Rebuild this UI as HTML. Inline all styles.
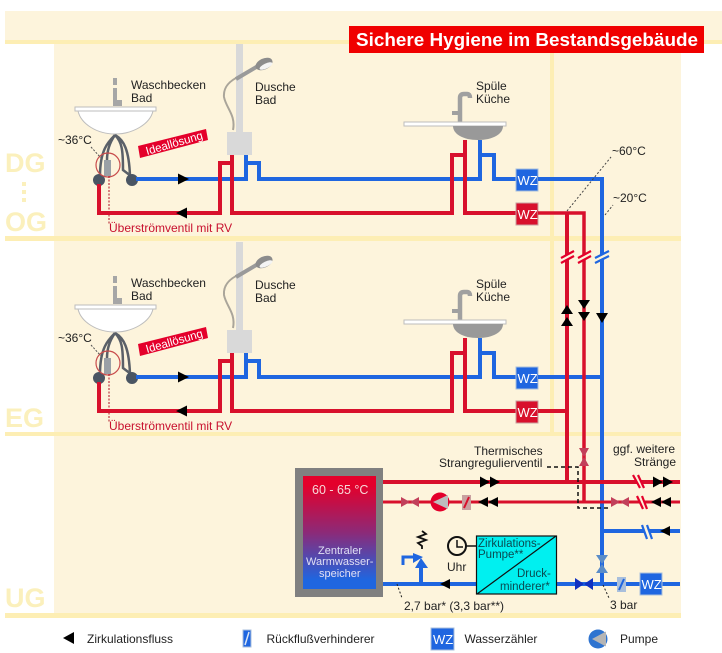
<!DOCTYPE html>
<html><head><meta charset="utf-8"><style>
html,body{margin:0;padding:0;background:#fff}
svg{display:block;filter:blur(.3px)}
text{font-family:"Liberation Sans",sans-serif;fill:#222;font-size:12px}
</style></head><body>
<svg width="722" height="653" viewBox="0 0 722 653" xmlns="http://www.w3.org/2000/svg">
<defs>
<linearGradient id="g" x1="0" y1="0" x2="0" y2="1"><stop offset="0.08" stop-color="#e4002b"/><stop offset="0.5" stop-color="#8c2a78"/><stop offset="0.92" stop-color="#1f66e0"/></linearGradient>
<g id="fx">
<rect x="236" y="44" width="7" height="90" fill="#d9d9d9"/>
<rect x="227" y="132" width="25" height="23" fill="#d9d9d9"/>
<path d="M233 130C236 115 226 108 224 97C223 86 231 80 240 76" fill="none" stroke="#aaa59a" stroke-width="2"/>
<path d="M236 79L258 66" stroke="#9a9a9a" stroke-width="4"/>
<ellipse cx="264" cy="64" rx="9" ry="5.500" transform="rotate(-25 264 64)" fill="#8c8c8c"/>
<ellipse cx="266" cy="66" rx="7" ry="2.500" transform="rotate(-25 266 66)" fill="#f4f4f4"/>
<path d="M113 78h4v7h-4zM113 88h4v12h5v6h-9z" fill="#a6a6a6"/>
<rect x="75" y="107" width="81" height="4" fill="#fff" stroke="#bdbdbd"/>
<path d="M78 111H153C150 124 133 134 115 134C97 134 81 124 78 111Z" fill="#fff" stroke="#bdbdbd"/>
<path d="M115 135C108 142 100 150 100 176M115 135C110 142 107 150 107 160M115 135C122 142 123 150 123 170L131 176M115 135C124 140 129 150 130 176" fill="none" stroke="#5a6068" stroke-width="2.500"/>
<rect x="104" y="160" width="7" height="16" fill="#9aa0a6"/>
<circle cx="99" cy="180" r="6" fill="#4a5563"/>
<circle cx="132" cy="180" r="6" fill="#4a5563"/>
<circle cx="108" cy="165" r="12" fill="none" stroke="#c84b4b" stroke-width="1.200"/>
<path d="M91 147L101 158" stroke="#555" stroke-width="1" stroke-dasharray="2 1.500"/>
<path d="M109 176V225" stroke="#b01020" stroke-width="1" stroke-dasharray="2 1.500"/>
<path d="M138 146L206 129L208 140L140 158Z" fill="#e4002b"/>
<path d="M460 123V98Q460 94 464 94H467Q470 94 470 98" fill="none" stroke="#a0a0a0" stroke-width="4.500"/>
<rect x="452" y="111" width="6" height="4" fill="#a0a0a0"/>
<rect x="404" y="122" width="102" height="4" fill="#fff" stroke="#bdbdbd"/>
<path d="M453 126H503C503 134 493 140 478 140C463 140 453 134 453 126Z" fill="#999"/>
<g fill="none">
<path d="M136 179H246V163H259V179H480V140M480 155H494V179H516M246 163V155" stroke="#1f66e0" stroke-width="4"/>
<path d="M99 184V213H220V163H232M232 155V213H452V155H465M465 140V213H516" stroke="#d8102c" stroke-width="4"/>
</g>
<path d="M189 179L178 173.500V184.500Z"/>
<path d="M176 213L187 207.500V218.500Z"/>
<rect x="516" y="169" width="22" height="22" fill="#1f66e0" stroke="#a9bfdc"/>
<rect x="516" y="203" width="22" height="22" fill="#d8102c" stroke="#c9a0a0"/>
</g>
<g id="v"><path d="M-9 -5L0 0L-9 5ZM9 -5L0 0L9 5Z"/></g>
</defs>
<rect x="54" y="14" width="627" height="604" fill="#fdf4dc"/>
<rect x="5" y="11" width="717" height="29" fill="#fdf4dc"/>
<rect x="5" y="40" width="717" height="4" fill="#fdeeb4"/>
<rect x="5" y="236" width="676" height="5" fill="#fdeeb4"/>
<rect x="5" y="432" width="676" height="4" fill="#fdeeb4"/>
<rect x="5" y="613" width="676" height="5" fill="#fdeeb4"/>
<rect x="550" y="44" width="4" height="390" fill="#fdeeb4"/>
<text x="5" y="172" style="font-size:27px;font-weight:bold;fill:#fbf0bc">DG</text>
<text x="5" y="231" style="font-size:27px;font-weight:bold;fill:#fbf0bc">OG</text>
<text x="5" y="427" style="font-size:27px;font-weight:bold;fill:#fbf0bc">EG</text>
<text x="5" y="607" style="font-size:27px;font-weight:bold;fill:#fbf0bc">UG</text>
<g fill="#fbf0bc"><rect x="22" y="182" width="4" height="4"/><rect x="22" y="190" width="4" height="4"/><rect x="22" y="198" width="4" height="4"/></g>
<rect x="349" y="26" width="355" height="27" fill="#f00000"/>
<text x="356" y="46" textLength="342" lengthAdjust="spacingAndGlyphs" style="fill:#fff;font-weight:bold;font-size:18px">Sichere Hygiene im Bestandsgebäude</text>

<use href="#fx"/>
<use href="#fx" y="198"/>

<g>
<text x="131" y="89">Waschbecken</text><text x="131" y="102">Bad</text>
<text x="255" y="91">Dusche</text><text x="255" y="104">Bad</text>
<text x="476" y="90">Spüle</text><text x="476" y="103">Küche</text>
<text x="58" y="144">~36°C</text>
<text x="109" y="232" style="fill:#c8102e">Überströmventil mit RV</text>
<text x="147" y="155" transform="rotate(-16 147 155)" style="fill:#fff;font-size:11.500px">Ideallösung</text>
<text x="131" y="287">Waschbecken</text><text x="131" y="300">Bad</text>
<text x="255" y="289">Dusche</text><text x="255" y="302">Bad</text>
<text x="476" y="288">Spüle</text><text x="476" y="301">Küche</text>
<text x="58" y="342">~36°C</text>
<text x="109" y="430" style="fill:#c8102e">Überströmventil mit RV</text>
<text x="147" y="353" transform="rotate(-16 147 353)" style="fill:#fff;font-size:11.500px">Ideallösung</text>
<text x="612" y="155">~60°C</text>
<text x="613" y="202">~20°C</text>
<text x="474" y="455">Thermisches</text>
<text x="439" y="467">Strangregulierventil</text>
<text x="613" y="453">ggf. weitere</text>
<text x="634" y="466">Stränge</text>
</g>
<text x="517.500" y="185" style="fill:#fff;font-size:13px">WZ</text><text x="517.500" y="219" style="fill:#fff;font-size:13px">WZ</text><text x="517.500" y="383" style="fill:#fff;font-size:13px">WZ</text><text x="517.500" y="417" style="fill:#fff;font-size:13px">WZ</text>

<g fill="none" stroke-width="4">
<path d="M538 179H602V584" stroke="#1f66e0"/>
<path d="M538 377H602" stroke="#1f66e0"/>
<path d="M538 213H584V502" stroke="#d8102c" stroke-width="3.500"/>
<path d="M567 213V482" stroke="#d8102c" stroke-width="4"/>
<path d="M538 411H567" stroke="#d8102c"/>
<path d="M376 482H680" stroke="#d8102c"/>
<path d="M376 502H680" stroke="#d8102c" stroke-width="3"/>
<path d="M602 531H680M376 584H476M556 584H680" stroke="#1f66e0"/>
</g>
<g fill="none" stroke="#fdf4dc" stroke-width="3">
<path d="M561 260L575 253M578 260L592 253M595 260L610 253"/>
</g>
<g fill="none" stroke-width="2.200">
<path d="M561 258L574 251M561 263L574 256M578 258L591 251M578 263L591 256" stroke="#e4002b"/>
<path d="M595 258L609 251M595 263L609 256" stroke="#1f66e0"/>
</g>
<path d="M561 314L567 305L573 314ZM561 326L567 317L573 326ZM578 300L584 309L590 300ZM578 312L584 321L590 312ZM596 313L602 323L608 313Z"/>
<path d="M480 476.500L490 482L480 487.500ZM490 476.500L500 482L490 487.500ZM498 497L488 502L498 507ZM488 497L478 502L488 507ZM653 476.500L663 482L653 487.500ZM663 476.500L673 482L663 487.500ZM661 497L651 502L661 507ZM671 497L661 502L671 507ZM670 526L660 531L670 536ZM450 579L440 584L450 589Z"/>
<g fill="none" stroke="#fdf4dc" stroke-width="3"><path d="M636 475L642 488M640 496L645 509M644 525L650 539"/></g>
<g stroke-width="2.200" fill="none">
<path d="M633 475L640 488M638 475L644 488M637 496L643 509M642 496L647 509" stroke="#e4002b"/>
<path d="M642 525L647 539M647 525L652 539" stroke="#1f66e0"/>
</g>
<g fill="#c2405a"><use href="#v" x="410" y="502"/><use href="#v" x="620" y="502"/><use href="#v" transform="translate(584 457) rotate(90)"/></g>
<circle cx="440" cy="502" r="9.500" fill="#e4002b"/><path d="M433 502L448 495V509Z" fill="#bdbdbd"/>
<rect x="462" y="495" width="9" height="15" fill="#c9a0a0"/><path d="M464 508L469 497" stroke="#d8102c" stroke-width="2"/>
<path d="M547 467H578V508H610" fill="none" stroke="#111" stroke-width="1.500" stroke-dasharray="4 3"/>

<rect x="295" y="468" width="88" height="129" fill="#808080"/>
<rect x="303" y="476" width="73" height="113" fill="url(#g)"/>
<text x="312" y="494" style="fill:#f6d8d8;font-size:12.500px">60 - 65 °C</text>
<text x="318" y="554" style="fill:#e0e0f5;font-size:11px">Zentraler</text>
<text x="306" y="565" style="fill:#e0e0f5;font-size:11px">Warmwasser-</text>
<text x="319" y="577" style="fill:#e0e0f5;font-size:11px">speicher</text>

<path d="M421 584V563" stroke="#1f66e0" stroke-width="4"/>
<path d="M421 558L415 568H428Z" fill="#1f66e0"/>
<path d="M413 553L423 557L413 563Z" fill="#1f66e0"/>
<path d="M403 565V557H415" fill="none" stroke="#1f66e0" stroke-width="3"/>
<path d="M422 549V546L418 543L426 540L418 537L426 534L422 531" fill="none" stroke="#111" stroke-width="1.800"/>
<circle cx="457" cy="546" r="9" fill="none" stroke="#111" stroke-width="2"/>
<path d="M457 540V547H463M466 546H476" fill="none" stroke="#111" stroke-width="1.500"/>
<text x="447" y="571">Uhr</text>
<rect x="476.500" y="536" width="80" height="58" fill="#00f0f0" stroke="#111" stroke-width="1.200"/>
<path d="M477 594L556 536" stroke="#111" stroke-width="1.200"/>
<text x="478" y="547" style="fill:#0a4a50;font-size:11.500px">Zirkulations-</text>
<text x="478" y="558" style="fill:#0a4a50;font-size:11.500px">Pumpe**</text>
<text x="517" y="577" style="fill:#0a4a50;font-size:11.500px">Druck-</text>
<text x="500" y="590" style="fill:#0a4a50;font-size:11.500px">minderer*</text>
<path d="M397 584L402 598" stroke="#222" stroke-width="1" stroke-dasharray="2 2"/>
<text x="404" y="610">2,7 bar* (3,3 bar**)</text>
<path d="M603 585L609 598" stroke="#222" stroke-width="1" stroke-dasharray="2 2"/>
<text x="610" y="609">3 bar</text>
<path d="M575 578L584 584L575 590ZM593 578L584 584L593 590Z" fill="#1030c0"/>
<path d="M596 555L602 564L608 555ZM596 573L602 564L608 573Z" fill="#5a8cc8"/>
<rect x="617" y="577" width="9" height="15" fill="#a9bfdc"/><path d="M619 590L624 579" stroke="#1f66e0" stroke-width="2"/>
<rect x="640" y="573" width="22" height="22" fill="#1f66e0" stroke="#a9bfdc"/>
<text x="641.500" y="589" style="fill:#fff;font-size:13px">WZ</text>
<path d="M567 211L611 157" fill="none" stroke="#444" stroke-width="1" stroke-dasharray="2 2"/>
<path d="M605 215L613 205" fill="none" stroke="#444" stroke-width="1" stroke-dasharray="2 2"/>

<path d="M63 638L74 632V644Z"/>
<text x="87" y="643">Zirkulationsfluss</text>
<rect x="243" y="630" width="8" height="17" fill="#1f66e0" stroke="#a9bfdc"/><path d="M245 645L249 632" stroke="#dbe6f5" stroke-width="1.500"/>
<text x="266.500" y="643">Rückflußverhinderer</text>
<rect x="431" y="628" width="23" height="22" fill="#1f66e0" stroke="#a9bfdc"/>
<text x="433" y="644" style="fill:#fff;font-size:13px">WZ</text>
<text x="464.500" y="643">Wasserzähler</text>
<circle cx="598" cy="639" r="9.500" fill="#2f74d0"/><path d="M592 639L606 631.500V646.500Z" fill="#b5b5b5"/>
<text x="620" y="643">Pumpe</text>
</svg>
</body></html>
